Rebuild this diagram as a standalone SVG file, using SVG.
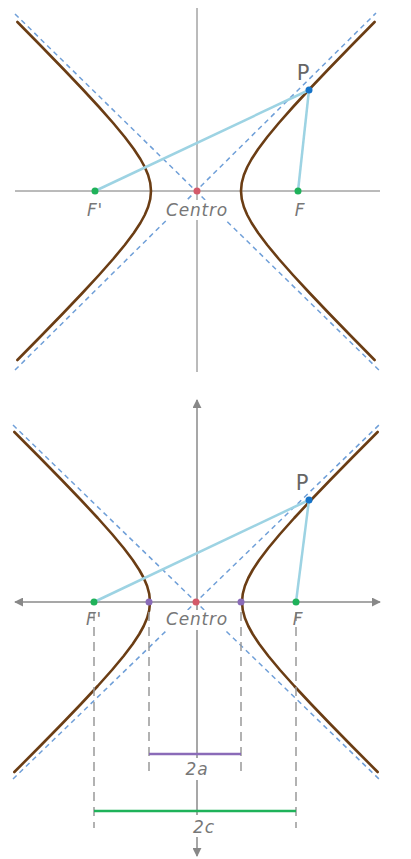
<svg xmlns="http://www.w3.org/2000/svg" width="411" height="859" viewBox="0 0 411 859">
<defs>
<marker id="arr" viewBox="0 0 10 10" refX="9" refY="5" markerWidth="9" markerHeight="9" markerUnits="userSpaceOnUse" orient="auto-start-reverse">
<path d="M0,0 L10,5 L0,10 z" fill="#888"/>
</marker>
</defs>
<style>
.axis{stroke:#777;stroke-width:1;fill:none}
.axis2{stroke:#8a8a8a;stroke-width:1.5;fill:none}
.asym{stroke:#6f9fd8;stroke-width:1.5;stroke-dasharray:5,4;fill:none}
.curve{stroke:#6b3d14;stroke-width:2.6;fill:none;stroke-linejoin:round;stroke-linecap:round}
.focal{stroke:#9dd3e3;stroke-width:2.5;fill:none}
.drop{stroke:#999;stroke-width:1.5;stroke-dasharray:9,6;fill:none}
.lbl{font-family:"DejaVu Sans","Open Sans",sans-serif;font-size:17px;fill:#777;font-style:italic;letter-spacing:0.8px}
.p{font-family:"DejaVu Sans","Open Sans",sans-serif;font-size:21px;fill:#666}
.bg{fill:#fff}
.green{fill:#1fb25a}.blue{fill:#1573c7}.red{fill:#d45a6a}.purple{fill:#8a6bb8}
</style>
<rect width="411" height="859" fill="#fff"/>

<!-- ========== TOP DIAGRAM ========== -->
<g id="top-axes">
<line class="axis" x1="197" y1="8" x2="197" y2="372"/>
<line class="axis" x1="15" y1="191" x2="380" y2="191"/>
</g>
<g id="top-asymptotes">
<line class="asym" x1="15" y1="14" x2="381" y2="372"/>
<line class="asym" x1="15" y1="370" x2="376" y2="13"/>
</g>
<g id="top-hyperbola">
<path class="curve" d="M374.6,22 L350.97,46 L328.64,69 L309.61,89 L292.98,107 L278.84,123 L267.24,137 L258.21,149 L251.64,159 L247.26,167 L243.88,175 L241.74,183 L241,191 L241.74,199 L243.88,207 L247.26,215 L251.64,223 L258.21,233 L267.24,245 L278.84,259 L292.98,275 L309.61,293 L328.64,313 L350.97,336 L374.6,360"/>
<path class="curve" d="M17.4,22 L41.03,46 L63.36,69 L82.39,89 L99.02,107 L113.16,123 L124.76,137 L133.79,149 L140.36,159 L144.74,167 L148.12,175 L150.26,183 L151,191 L150.26,199 L148.12,207 L144.74,215 L140.36,223 L133.79,233 L124.76,245 L113.16,259 L99.02,275 L82.39,293 L63.36,313 L41.03,336 L17.4,360"/>
</g>
<g id="top-focal-lines">
<line class="focal" x1="95" y1="191" x2="309" y2="90"/>
<line class="focal" x1="298" y1="191" x2="309" y2="90"/>
</g>
<g id="top-Fprime"><circle class="green" cx="95" cy="191" r="3.5"/><text class="lbl" x="95" y="216" text-anchor="middle">F'</text></g>
<g id="top-F"><circle class="green" cx="298" cy="191" r="3.5"/><text class="lbl" x="300" y="216" text-anchor="middle">F</text></g>
<g id="top-center"><circle class="red" cx="197" cy="191" r="3.5"/><rect class="bg" x="163" y="200" width="68" height="20"/><text class="lbl" x="197" y="216" text-anchor="middle">Centro</text></g>
<g id="top-P"><circle class="blue" cx="309" cy="90" r="3.5"/><text class="p" x="303" y="80" text-anchor="middle">P</text></g>

<!-- ========== BOTTOM DIAGRAM ========== -->
<g id="bottom-axes">
<line class="axis2" x1="197" y1="400" x2="197" y2="856" marker-start="url(#arr)" marker-end="url(#arr)"/>
<line class="axis2" x1="15" y1="602" x2="380" y2="602" marker-start="url(#arr)" marker-end="url(#arr)"/>
</g>
<g id="bottom-asymptotes">
<line class="asym" x1="13" y1="425" x2="380" y2="780"/>
<line class="asym" x1="13" y1="779" x2="380" y2="424"/>
</g>
<g id="bottom-hyperbola">
<path class="curve" d="M377.65,432 L352.79,457 L330.24,480 L311.04,500 L294.26,518 L280.01,534 L268.33,548 L259.25,560 L252.66,570 L248.26,578 L244.88,586 L242.74,594 L242,602 L242.74,610 L244.88,618 L248.26,626 L252.66,634 L259.25,644 L268.33,656 L280.01,670 L294.26,686 L311.04,704 L330.24,724 L352.79,747 L377.65,772"/>
<path class="curve" d="M14.35,432 L39.21,457 L61.76,480 L80.96,500 L97.74,518 L111.99,534 L123.67,548 L132.75,560 L139.34,570 L143.74,578 L147.12,586 L149.26,594 L150,602 L149.26,610 L147.12,618 L143.74,626 L139.34,634 L132.75,644 L123.67,656 L111.99,670 L97.74,686 L80.96,704 L61.76,724 L39.21,747 L14.35,772"/>
</g>
<g id="drop-lines">
<line class="drop" x1="94" y1="612" x2="94" y2="828"/>
<line class="drop" x1="149" y1="612" x2="149" y2="776"/>
<line class="drop" x1="241" y1="612" x2="241" y2="776"/>
<line class="drop" x1="296" y1="612" x2="296" y2="828"/>
</g>
<g id="bottom-focal-lines">
<line class="focal" x1="94" y1="602" x2="309" y2="500"/>
<line class="focal" x1="296" y1="602" x2="309" y2="500"/>
</g>
<g id="bottom-Fprime"><circle class="green" cx="94" cy="602" r="3.5"/><text class="lbl" x="94" y="625" text-anchor="middle">F'</text></g>
<g id="bottom-F"><circle class="green" cx="296" cy="602" r="3.5"/><text class="lbl" x="298" y="625" text-anchor="middle">F</text></g>
<g id="vertex-left"><circle class="purple" cx="149" cy="602" r="3.5"/></g>
<g id="vertex-right"><circle class="purple" cx="241" cy="602" r="3.5"/></g>
<g id="bottom-center"><circle class="red" cx="196" cy="602" r="3.5"/><rect class="bg" x="163" y="610" width="68" height="20"/><text class="lbl" x="197" y="625" text-anchor="middle">Centro</text></g>
<g id="bottom-P"><circle class="blue" cx="309" cy="500" r="3.5"/><text class="p" x="302" y="490" text-anchor="middle">P</text></g>
<g id="measure-2a">
<line x1="149" y1="754" x2="241" y2="754" stroke="#8a6bb8" stroke-width="2.5"/>
<rect class="bg" x="181" y="758" width="32" height="22"/>
<text class="lbl" x="197" y="775" text-anchor="middle">2a</text>
</g>
<g id="measure-2c">
<line x1="94" y1="811" x2="296" y2="811" stroke="#1fb25a" stroke-width="2.5"/>
<rect class="bg" x="187" y="815" width="34" height="22"/>
<text class="lbl" x="204" y="833" text-anchor="middle">2c</text>
</g>
</svg>
